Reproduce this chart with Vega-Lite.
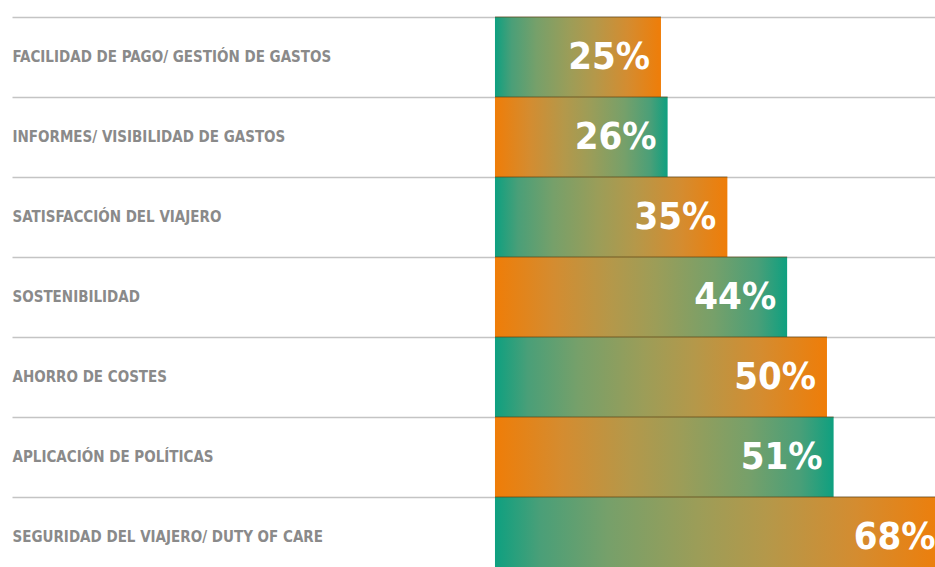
{
  "$schema": "https://vega.github.io/schema/vega-lite/v6.json",
  "width": 923,
  "height": 550,
  "autosize": {"type": "none"},
  "padding": {"left": 12, "top": 17, "right": 0, "bottom": 0},
  "background": "white",
  "config": {"view": {"stroke": null}},
  "data": {
    "values": [
      {"cat": "FACILIDAD DE PAGO/ GESTIÓN DE GASTOS", "pct": 25, "label": "25%"},
      {"cat": "INFORMES/ VISIBILIDAD DE GASTOS", "pct": 26, "label": "26%"},
      {"cat": "SATISFACCIÓN DEL VIAJERO", "pct": 35, "label": "35%"},
      {"cat": "SOSTENIBILIDAD", "pct": 44, "label": "44%"},
      {"cat": "AHORRO DE COSTES", "pct": 50, "label": "50%"},
      {"cat": "APLICACIÓN DE POLÍTICAS", "pct": 51, "label": "51%"},
      {"cat": "SEGURIDAD DEL VIAJERO/ DUTY OF CARE", "pct": 68, "label": "68%"}
    ]
  },
  "encoding": {
    "y": {
      "field": "cat", "type": "nominal", "sort": null,
      "scale": {
        "domain": ["FACILIDAD DE PAGO/ GESTIÓN DE GASTOS", "INFORMES/ VISIBILIDAD DE GASTOS", "SATISFACCIÓN DEL VIAJERO", "SOSTENIBILIDAD", "AHORRO DE COSTES", "APLICACIÓN DE POLÍTICAS", "SEGURIDAD DEL VIAJERO/ DUTY OF CARE"],
        "range": [0, 560], "paddingInner": 0, "paddingOuter": 0
      },
      "axis": {
        "title": null, "domain": false, "ticks": false,
        "labelAlign": "left", "labelPadding": 0, "labelBaseline": "middle",
        "labelFont": "DejaVu Sans Condensed", "labelFontWeight": "bold",
        "labelFontSize": 15, "labelColor": "#8a8a8a", "labelLimit": 0,
        "grid": true, "gridColor": "#c4c4c4", "gridWidth": 1.5, "bandPosition": 0
      }
    },
    "x": {
      "field": "pct", "type": "quantitative",
      "scale": {"domain": [-72.74, 66.27]},
      "axis": null
    }
  },
  "layer": [
    {
      "transform": [{"filter": {"field": "cat", "oneOf": ["FACILIDAD DE PAGO/ GESTIÓN DE GASTOS", "SATISFACCIÓN DEL VIAJERO", "AHORRO DE COSTES", "SEGURIDAD DEL VIAJERO/ DUTY OF CARE"]}}],
      "mark": {
        "type": "bar",
        "color": {"gradient": "linear", "x1": 0, "x2": 1, "y1": 0, "y2": 0,
          "stops": [
            {"offset": 0, "color": "#0ea080"},
            {"offset": 0.1, "color": "#4a9f78"},
            {"offset": 0.25, "color": "#76a06a"},
            {"offset": 0.45, "color": "#9c9d58"},
            {"offset": 0.6, "color": "#b4984a"},
            {"offset": 0.8, "color": "#d48c30"},
            {"offset": 1, "color": "#ef7d08"}
          ]}
      }
    },
    {
      "transform": [{"filter": {"field": "cat", "oneOf": ["INFORMES/ VISIBILIDAD DE GASTOS", "SOSTENIBILIDAD", "APLICACIÓN DE POLÍTICAS"]}}],
      "mark": {
        "type": "bar",
        "color": {"gradient": "linear", "x1": 0, "x2": 1, "y1": 0, "y2": 0,
          "stops": [
            {"offset": 0, "color": "#ef7d08"},
            {"offset": 0.2, "color": "#d48c30"},
            {"offset": 0.4, "color": "#b4984a"},
            {"offset": 0.55, "color": "#9c9d58"},
            {"offset": 0.75, "color": "#76a06a"},
            {"offset": 0.9, "color": "#4a9f78"},
            {"offset": 1, "color": "#0ea080"}
          ]}
      }
    },
    {
      "mark": {"type": "rule", "color": "#5a4010", "opacity": 0.45, "strokeWidth": 1.5},
      "encoding": {
        "x2": {"datum": 0},
        "y": {"field": "cat", "type": "nominal", "sort": null, "bandPosition": 0}
      }
    },
    {
      "mark": {"type": "text", "align": "right", "baseline": "middle", "dx": -11, "dy": 1,
        "font": "DejaVu Sans Condensed", "fontWeight": "bold", "fontSize": 38, "color": "white"},
      "encoding": {"text": {"field": "label", "type": "nominal"}}
    }
  ]
}
